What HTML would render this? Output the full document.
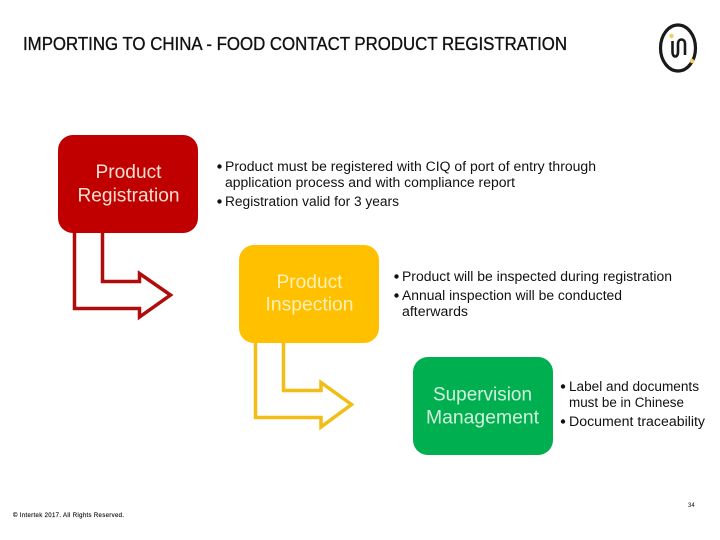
<!DOCTYPE html>
<html><head><meta charset="utf-8"><style>
html,body{margin:0;padding:0;background:#fff}
svg{display:block}
text{font-family:"Liberation Sans",sans-serif}
.b{font-size:13.5px;fill:#111}
.n{font-size:19px;fill:#f6dfd0;text-anchor:middle}
</style></head><body>
<svg width="720" height="540" viewBox="0 0 720 540" xmlns="http://www.w3.org/2000/svg">
<rect width="720" height="540" fill="#fff"/>
<text x="23" y="50" font-size="18.500" fill="#111" stroke="#111" stroke-width="0.35" textLength="544" lengthAdjust="spacingAndGlyphs">IMPORTING TO CHINA - FOOD CONTACT PRODUCT REGISTRATION</text>

<!-- logo -->
<ellipse cx="678" cy="48" rx="17.500" ry="23" fill="none" stroke="#1a1a1a" stroke-width="3.200"/>
<path d="M672.500 41V52C672.500 58 678 58 678 52V44C678 38 685 38 685 44V55" stroke="#1a1a1a" stroke-width="2.600" fill="none"/>
<circle cx="671.500" cy="36" r="2.200" fill="#f2cf5e"/>
<circle cx="692" cy="61" r="2.200" fill="#f2cf5e"/>

<!-- red -->
<rect x="58" y="135" width="140" height="98" rx="15" fill="#c00000"/>
<path d="M74.500 233V308.500H139.500V317L170.500 295L139.500 273.500V281.500H102.500V233" fill="#fff" stroke="#b00c0c" stroke-width="3.500"/>
<text class="n" x="128.500" y="178" textLength="66" lengthAdjust="spacingAndGlyphs">Product</text>
<text class="n" x="128.500" y="201.500" textLength="102" lengthAdjust="spacingAndGlyphs">Registration</text>

<!-- yellow -->
<rect x="239" y="245" width="140" height="98" rx="15" fill="#ffc000"/>
<path d="M255.500 343V417.500H321V427L351.500 404.500L321 382.500V390.500H283.500V343" fill="#fff" stroke="#f2bd17" stroke-width="3.500"/>
<text class="n" x="309.500" y="288" textLength="66" lengthAdjust="spacingAndGlyphs" style="fill:#fff0b8">Product</text>
<text class="n" x="309.500" y="310.500" textLength="88" lengthAdjust="spacingAndGlyphs" style="fill:#fff0b8">Inspection</text>

<!-- green -->
<rect x="413" y="357" width="140" height="98" rx="15" fill="#00b050"/>
<text class="n" x="482.500" y="400.500" textLength="99" lengthAdjust="spacingAndGlyphs" style="fill:#d2f0dc">Supervision</text>
<text class="n" x="482.500" y="423.500" textLength="113" lengthAdjust="spacingAndGlyphs" style="fill:#d2f0dc">Management</text>

<!-- text 1 -->
<circle cx="219.500" cy="166.500" r="2.200" fill="#111"/>
<text class="b" x="225" y="171" textLength="371" lengthAdjust="spacingAndGlyphs">Product must be registered with CIQ of port of entry through</text>
<text class="b" x="225" y="187" textLength="290" lengthAdjust="spacingAndGlyphs">application process and with compliance report</text>
<circle cx="219.500" cy="201.500" r="2.200" fill="#111"/>
<text class="b" x="225" y="206" textLength="174" lengthAdjust="spacingAndGlyphs">Registration valid for 3 years</text>

<!-- text 2 -->
<circle cx="396.500" cy="276.500" r="2.200" fill="#111"/>
<text class="b" x="402" y="281" textLength="270" lengthAdjust="spacingAndGlyphs">Product will be inspected during registration</text>
<circle cx="396.500" cy="295.500" r="2.200" fill="#111"/>
<text class="b" x="402" y="300" textLength="220" lengthAdjust="spacingAndGlyphs">Annual inspection will be conducted</text>
<text class="b" x="402" y="316" textLength="66" lengthAdjust="spacingAndGlyphs">afterwards</text>

<!-- text 3 -->
<circle cx="563" cy="386.500" r="2.200" fill="#111"/>
<text class="b" x="569" y="391" textLength="130" lengthAdjust="spacingAndGlyphs">Label and documents</text>
<text class="b" x="569" y="407" textLength="115" lengthAdjust="spacingAndGlyphs">must be in Chinese</text>
<circle cx="563" cy="421.500" r="2.200" fill="#111"/>
<text class="b" x="569" y="426" textLength="136" lengthAdjust="spacingAndGlyphs">Document traceability</text>

<!-- footer -->
<text x="13" y="517" font-size="6" fill="#111" stroke="#111" stroke-width="0.15" textLength="111" lengthAdjust="spacing">© Intertek 2017. All Rights Reserved.</text>
<text x="688" y="507" font-size="6" fill="#111">34</text>
</svg>
</body></html>
